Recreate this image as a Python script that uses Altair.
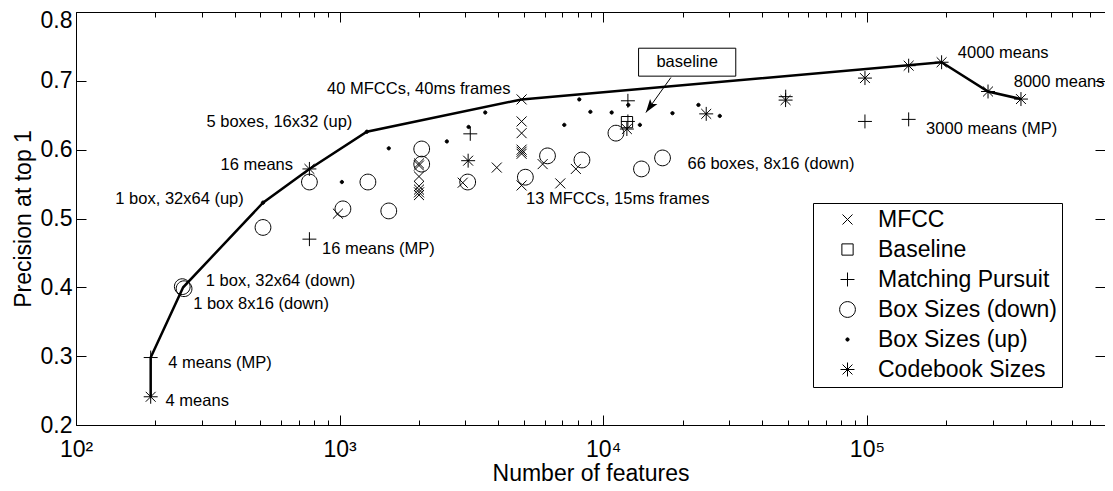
import altair as alt
import pandas as pd

# ---------------- data ----------------
series_names = ["MFCC", "Baseline", "Matching Pursuit", "Box Sizes (down)",
                "Box Sizes (up)", "Codebook Sizes"]

mfcc_x = [4900, 4900, 4900, 4900, 4900, 4900, 4900,
          2000, 2000, 2000, 2000, 2000, 2000, 2000,
          985, 2930, 3945, 5890, 6870, 7870]
mfcc_y = [0.673, 0.641, 0.624, 0.600, 0.597, 0.594, 0.548,
          0.580, 0.577, 0.561, 0.547, 0.542, 0.538, 0.534,
          0.507, 0.552, 0.574, 0.579, 0.551, 0.572]

baseline_x = [12300]
baseline_y = [0.640]

mp_x = [192, 768, 3130, 12400, 12400, 49200, 98300, 144000]
mp_y = [0.298, 0.470, 0.623, 0.671, 0.641, 0.677, 0.641, 0.644]

down_x = [253, 257, 512, 768, 1029, 1280, 1536, 2048, 2048, 3060,
          5064, 6144, 8300, 11170, 13960, 16780]
down_y = [0.401, 0.398, 0.487, 0.553, 0.514, 0.553, 0.511, 0.601, 0.579, 0.553,
          0.560, 0.591, 0.585, 0.624, 0.572, 0.588]

up_x = [512, 1020, 1268, 1536, 2551, 3085, 3567, 7113, 8110, 8935,
        10760, 12440, 13770, 18300, 22960, 27670]
up_y = [0.523, 0.553, 0.626, 0.602, 0.612, 0.633, 0.654, 0.636, 0.673, 0.655,
        0.654, 0.665, 0.636, 0.653, 0.665, 0.649]

codebook_x = [192, 768, 3072, 12288, 24576, 49152, 98304, 144000, 192000, 288000, 384000]
codebook_y = [0.241, 0.572, 0.584, 0.630, 0.652, 0.672, 0.704, 0.722, 0.727, 0.6845, 0.6735]

frontier_x = [192, 192, 255, 512, 768, 1268, 4900, 192000, 288000, 384000]
frontier_y = [0.241, 0.298, 0.400, 0.523, 0.572, 0.626, 0.673, 0.727, 0.6845, 0.6735]

label_text = ["4 means", "4 means (MP)", "1 box, 32x64 (down)", "1 box 8x16 (down)",
              "16 means (MP)", "13 MFCCs, 15ms frames", "66 boxes, 8x16 (down)",
              "4000 means", "8000 means", "3000 means (MP)",
              "1 box, 32x64 (up)", "16 means", "5 boxes, 16x32 (up)",
              "40 MFCCs, 40ms frames"]
label_x = [218.7, 223.7, 310.7, 278.2, 857, 5095, 20860, 221200, 360500, 167700,
           432.9, 665.5, 1117, 4444]
label_y = [0.2352, 0.2903, 0.4087, 0.3764, 0.4561, 0.5286, 0.5793, 0.7401, 0.699, 0.630,
           0.5286, 0.5778, 0.6396, 0.6888]
label_align = ["left"] * 10 + ["right"] * 4

box_text = ["baseline"]
box_x, box_x2 = [13610], [31810]
box_y, box_y2 = [0.7474], [0.7068]
box_text_x, box_text_y = [20800], [0.7268]
arrow_x = [18050, 14510]
arrow_y = [0.7048, 0.654]

major_x = [100, 1000, 10000, 100000]
minor_x = [m * 10 ** e for e in (2, 3, 4, 5) for m in range(2, 10) if m * 10 ** e < 800000]
major_y = [0.2, 0.3, 0.4, 0.5, 0.6, 0.7, 0.8]

# ---------------- marker shapes (paths scaled inside a size-225 symbol) -------------
X_PATH = "M-0.667,-0.667L0.667,0.667M-0.667,0.667L0.667,-0.667"
SQ_PATH = "M-0.75,-0.75L0.75,-0.75L0.75,0.75L-0.75,0.75Z"
PLUS_PATH = "M-0.93,0L0.93,0M0,-0.93L0,0.93"
CIRC_PATH = "M1.05,0A1.05,1.05 0 1,1 -1.05,0A1.05,1.05 0 1,1 1.05,0Z"
DOT_PATH = "M0.22,0A0.22,0.22 0 1,1 -0.22,0A0.22,0.22 0 1,1 0.22,0Z"
STAR_PATH = ("M-0.93,0L0.93,0M0,-0.93L0,0.93M-0.66,-0.66L0.66,0.66"
             "M-0.66,0.66L0.66,-0.66")
ARROW_PATH = "M0,0L0.6,1.8L0,1.4L-0.6,1.8Z"

shape_range = [X_PATH, SQ_PATH, PLUS_PATH, CIRC_PATH, DOT_PATH, STAR_PATH]
fill_range = ["transparent", "transparent", "transparent", "transparent", "black", "transparent"]
stroke_range = ["black"] * 6

# ---------------- tables ----------------
rows = []
for name, xs, ys in [("MFCC", mfcc_x, mfcc_y), ("Baseline", baseline_x, baseline_y),
                     ("Matching Pursuit", mp_x, mp_y), ("Box Sizes (down)", down_x, down_y),
                     ("Box Sizes (up)", up_x, up_y), ("Codebook Sizes", codebook_x, codebook_y)]:
    for a, b in zip(xs, ys):
        rows.append({"features": a, "precision": b, "series": name})
points_df = pd.DataFrame(rows)
frontier_df = pd.DataFrame({"features": frontier_x, "precision": frontier_y,
                            "idx": list(range(len(frontier_x)))})
labels_df = pd.DataFrame({"text": label_text, "features": label_x,
                          "precision": label_y, "align": label_align})
box_df = pd.DataFrame({"x": box_x, "x2": box_x2, "y": box_y, "y2": box_y2})
box_text_df = pd.DataFrame({"features": box_text_x, "precision": box_text_y, "text": box_text})
arrow_df = pd.DataFrame({"features": arrow_x, "precision": arrow_y, "idx": [0, 1]})
head_df = arrow_df.iloc[[1]]

FONT = "Liberation Sans"
xscale = alt.Scale(type="log", domain=[100, 800000], nice=False)
yscale = alt.Scale(domain=[0.2, 0.8], nice=False, zero=False)

label_expr = ("datum.value == 100 ? '10\u00b2' : datum.value == 1000 ? '10\u00b3' : "
              "datum.value == 10000 ? '10\u2074' : '10\u2075'")

# frontier line (carries the main labelled axes)
line = alt.Chart(frontier_df).mark_line(color="black", strokeWidth=2.5).encode(
    x=alt.X("features:Q", scale=xscale,
            axis=alt.Axis(values=major_x, orient="bottom", offset=-10, tickSize=10,
                          labelExpr=label_expr, labelPadding=13, labelFlush=False,
                          labelOverlap=False, title="Number of features", titlePadding=1)),
    y=alt.Y("precision:Q", scale=yscale,
            axis=alt.Axis(values=major_y, orient="left", offset=-10, tickSize=10,
                          format=".1f", labelPadding=4, labelFlush=False,
                          labelBaseline={"condition": {"test": "datum.value >= 0.79",
                                                       "value": "top"},
                                         "value": "middle"},
                          labelOffset={"condition": {"test": "datum.value >= 0.79",
                                                     "value": -3},
                                       "value": 0},
                          title="Precision at top 1", titlePadding=5)),
    order="idx:Q",
)

legend = alt.Legend(orient="none", legendX=737, legendY=191, title=None,
                    labelFont=FONT, labelFontSize=23, labelColor="black", labelLimit=0,
                    symbolSize=225, symbolStrokeColor="black", symbolStrokeWidth=1,
                    strokeColor="black", fillColor="white", padding=5, rowPadding=6,
                    symbolOffset=18, labelOffset=19)

points = alt.Chart(points_df).mark_point(filled=True, size=225, strokeWidth=1,
                                         opacity=1).encode(
    x=alt.X("features:Q", scale=xscale,
            axis=alt.Axis(values=minor_x, orient="bottom", offset=-5, tickSize=5,
                          labels=False, title=None)),
    y=alt.Y("precision:Q", scale=yscale,
            axis=alt.Axis(values=major_y, orient="right", offset=-10, tickSize=10,
                          labels=False, title=None)),
    shape=alt.Shape("series:N", scale=alt.Scale(domain=series_names, range=shape_range),
                    legend=legend),
    fill=alt.Fill("series:N", scale=alt.Scale(domain=series_names, range=fill_range),
                  legend=legend),
    stroke=alt.Stroke("series:N", scale=alt.Scale(domain=series_names, range=stroke_range),
                      legend=legend),
)

text_left = alt.Chart(labels_df).transform_filter("datum.align == 'left'").mark_text(
    align="left", baseline="middle", font=FONT, fontSize=16.5, color="black").encode(
    x=alt.X("features:Q", scale=xscale,
            axis=alt.Axis(values=major_x, orient="top", offset=-10, tickSize=10,
                          labels=False, title=None)),
    y=alt.Y("precision:Q", scale=yscale, axis=None),
    text="text:N",
)

text_right = alt.Chart(labels_df).transform_filter("datum.align == 'right'").mark_text(
    align="right", baseline="middle", font=FONT, fontSize=16.5, color="black").encode(
    x=alt.X("features:Q", scale=xscale,
            axis=alt.Axis(values=minor_x, orient="top", offset=-5, tickSize=5,
                          labels=False, title=None)),
    y=alt.Y("precision:Q", scale=yscale, axis=None),
    text="text:N",
)

box = alt.Chart(box_df).mark_rect(fill="white", stroke="black", strokeWidth=1).encode(
    x=alt.X("x:Q", scale=xscale, axis=None), x2="x2:Q",
    y=alt.Y("y:Q", scale=yscale, axis=None), y2="y2:Q",
)

box_label = alt.Chart(box_text_df).mark_text(
    align="center", baseline="middle", font=FONT, fontSize=16.5, color="black").encode(
    x=alt.X("features:Q", scale=xscale, axis=None),
    y=alt.Y("precision:Q", scale=yscale, axis=None),
    text="text:N",
)

arrow_line = alt.Chart(arrow_df).mark_line(color="black", strokeWidth=1).encode(
    x=alt.X("features:Q", scale=xscale, axis=None),
    y=alt.Y("precision:Q", scale=yscale, axis=None),
    order="idx:Q",
)

arrow_head = alt.Chart(head_df).mark_point(shape=ARROW_PATH, filled=True, fill="black",
                                           strokeWidth=0, size=225, angle=215.5,
                                           opacity=1).encode(
    x=alt.X("features:Q", scale=xscale, axis=None),
    y=alt.Y("precision:Q", scale=yscale, axis=None),
)

chart = alt.layer(line, points, text_left, text_right, box, box_label, arrow_line,
                  arrow_head).resolve_axis(
    x="independent", y="independent"
).properties(
    width=1029, height=413,
    autosize=alt.AutoSizeParams(type="none"),
    padding={"left": 68, "top": 4, "right": 0, "bottom": 64},
    background="white",
).configure_view(
    stroke="black", strokeWidth=1
).configure_axis(
    labelFont=FONT, labelFontSize=23, labelColor="black",
    titleFont=FONT, titleFontSize=23, titleFontWeight="normal", titleColor="black",
    tickColor="black", tickWidth=1, domain=False, grid=False,
)

chart.save("out.html", embed_options={"renderer": "svg", "actions": False})
